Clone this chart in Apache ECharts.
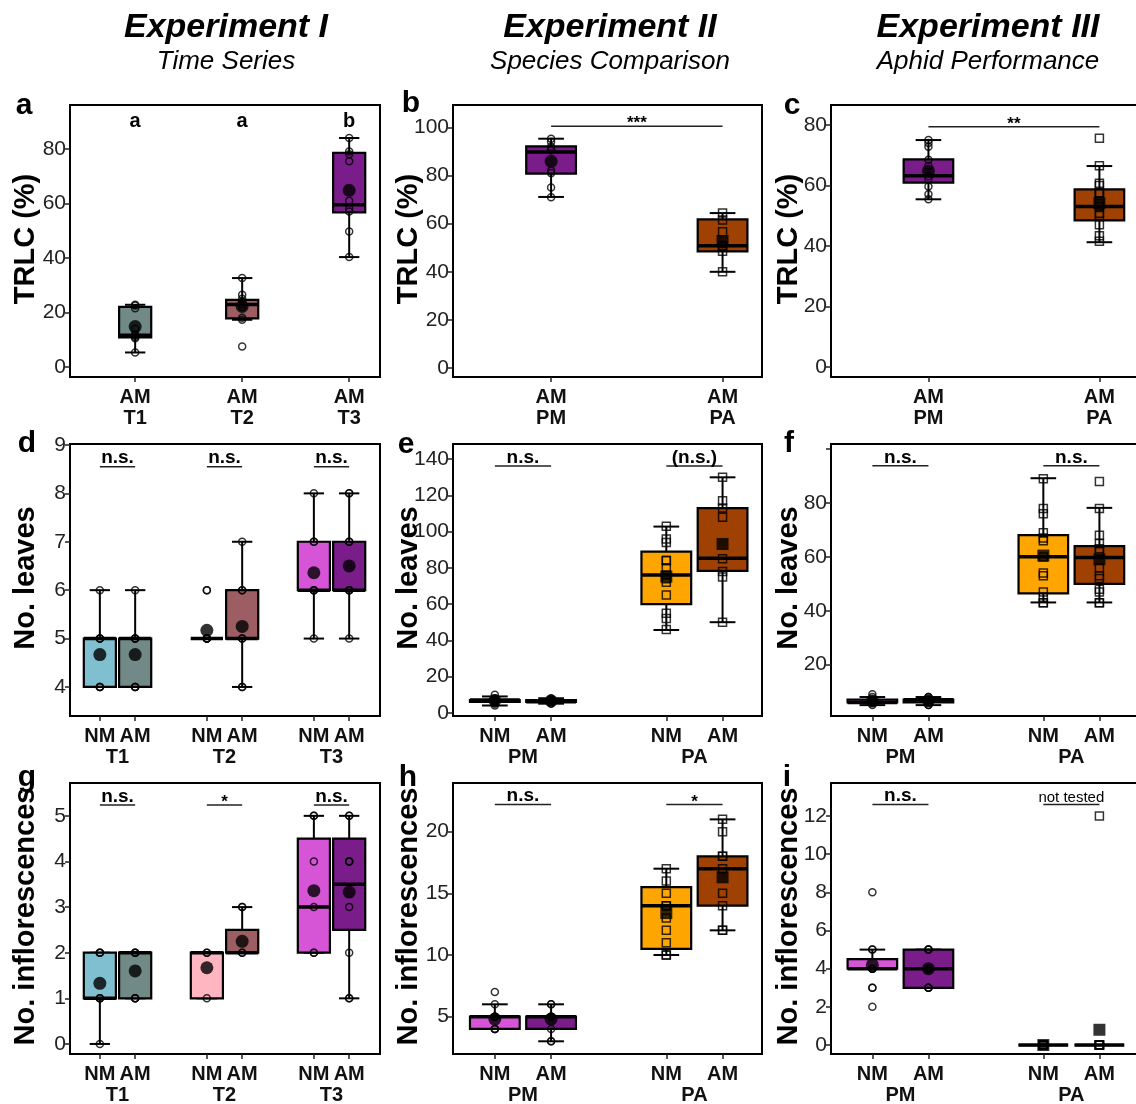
<!DOCTYPE html>
<html><head><meta charset="utf-8">
<script src="https://cdn.jsdelivr.net/npm/echarts@6/dist/echarts.min.js"></script>
<style>html,body{margin:0;padding:0;background:#fff}#c{width:1136px;height:1104px}</style>
</head><body><div id="c"></div>
<script>
// ================= DATA =================
const timeGroups = ['T1', 'T2', 'T3'];
const speciesGroups = ['PM', 'PA'];
const treatments = ['NM', 'AM'];

// box stats: [lower whisker, Q1, median, Q3, upper whisker]
// (a) TRLC (%) - time series, AM only
const a_AM_box = [[5.3, 10.8, 11.6, 22.0, 22.8], [17.3, 17.8, 22.9, 24.6, 32.6], [40.3, 56.7, 59.5, 78.5, 84.0]];
const a_AM_mean = [14.8, 22.2, 64.8];
const a_AM_pts = [[5.3, 10.5, 11, 11.5, 12, 14, 21.5, 22.5, 22.8], [7.5, 17.3, 18, 22, 23, 24, 25, 26.5, 32.6], [40.3, 49.7, 57, 58, 61, 75.5, 78, 79, 84]];
const a_sig = ['a', 'a', 'b'];

// (b) TRLC (%) - species comparison
const b_AM_box = [[71.1, 80.8, 89.8, 92.1, 95.3], [40.0, 48.5, 50.8, 61.8, 64.4]];
const b_AM_mean = [85.9, 52.8];
const b_AM_pts = [[71, 75, 81, 82, 90.5, 91, 92, 94, 95.3], [40, 48.5, 50.5, 51, 56.6, 61.5, 64.4]];
const b_sig = ['***'];

// (c) TRLC (%) - aphid performance
const c_AM_box = [[55.4, 60.9, 63.2, 68.6, 75.0], [41.2, 48.4, 53.0, 58.7, 66.4]];
const c_AM_mean = [64.8, 54.1];
const c_AM_pts = [[55.4, 57.1, 59.6, 62, 63, 66.5, 68.5, 72.8, 74, 75], [41.5, 43.3, 47, 50, 50.8, 53, 54, 57.5, 57.5, 57.5, 60, 60.7, 66.5, 75.6]];
const c_sig = ['**'];

// (d) No. leaves - time series
const d_NM_box = [[4, 4, 5, 5, 6], [5, 5, 5, 5, 5], [5, 6, 6, 7, 8]];
const d_AM_box = [[4, 4, 5, 5, 6], [4, 5, 5, 6, 7], [5, 6, 6, 7, 8]];
const d_NM_mean = [4.67, 5.17, 6.36];
const d_AM_mean = [4.67, 5.25, 6.5];
const d_NM_pts = [[4, 4, 4, 5, 5, 5, 6], [5, 5, 5, 5, 5, 6, 6], [5, 6, 6, 6, 7, 7, 8]];
const d_AM_pts = [[4, 4, 4, 5, 5, 5, 6], [4, 4, 5, 5, 6, 6, 7], [5, 6, 6, 6, 7, 7, 8, 8]];
const d_sig = ['n.s.', 'n.s.', 'n.s.'];

// (e) No. leaves - species comparison
const e_NM_box = [[4, 6, 7, 7, 9], [45.7, 60, 76, 89, 102.8]];
const e_AM_box = [[5, 6, 6, 7, 8], [50, 78.3, 85.3, 113, 130]];
const e_NM_mean = [6.7, 75.2];
const e_AM_mean = [6.5, 93.2];
const e_NM_pts = [[4, 5, 6, 6, 7, 7, 7, 8, 10], [46, 52, 55, 65, 72, 74, 76, 80, 84, 84, 94, 96, 103]];
const e_AM_pts = [[5, 6, 6, 6, 7, 7, 7, 8], [50, 75, 78, 85, 108, 113, 117, 130]];
const e_sig = ['n.s.', '(n.s.)'];

// (f) No. leaves - aphid performance
const f_NM_box = [[5, 6, 6, 7, 8], [43.1, 46.5, 60.1, 68.1, 89.2]];
const f_AM_box = [[5, 6, 7, 7, 8], [43.1, 50, 59.8, 64, 78.2]];
const f_NM_mean = [6.5, 60.5];
const f_AM_mean = [6.6, 59.1];
const f_NM_pts = [[5, 6, 6, 6, 7, 7, 8, 9], [43, 43, 45, 47, 53, 54, 60, 66, 67, 69, 76, 78, 89]];
const f_AM_pts = [[5, 5, 6, 7, 7, 7, 8, 8], [43, 43, 47, 48, 52, 53, 56, 62, 63, 65, 68, 78, 88]];
const f_sig = ['n.s.', 'n.s.'];

// (g) No. inflorescences - time series
const g_NM_box = [[0, 1, 1, 2, 2], [1, 1, 2, 2, 2], [2, 2, 3, 4.5, 5]];
const g_AM_box = [[1, 1, 2, 2, 2], [2, 2, 2, 2.5, 3], [1, 2.5, 3.5, 4.5, 5]];
const g_NM_mean = [1.33, 1.67, 3.36];
const g_AM_mean = [1.6, 2.25, 3.33];
const g_NM_pts = [[0, 1, 1, 1, 2, 2, 2], [1, 2, 2], [2, 2, 3, 4, 5, 5]];
const g_AM_pts = [[1, 1, 1, 2, 2, 2], [2, 2, 3, 3], [1, 1, 2, 3, 4, 4, 4, 5, 5]];
const g_sig = ['n.s.', '*', 'n.s.'];

// (h) No. inflorescences - species comparison
const h_NM_box = [[4, 4, 5, 5, 6], [10, 10.5, 14, 15.5, 17]];
const h_AM_box = [[3, 4, 5, 5, 6], [12, 14, 17, 18, 21]];
const h_NM_mean = [4.8, 13.4];
const h_AM_mean = [4.8, 16.3];
const h_NM_pts = [[4, 4, 4, 5, 5, 5, 6, 7], [10, 10, 11, 12, 13, 14, 14, 15, 16, 17]];
const h_AM_pts = [[3, 3, 4, 5, 5, 5, 6, 6], [12, 12, 14, 15, 17, 18, 18, 20, 21]];
const h_sig = ['n.s.', '*'];

// (i) No. inflorescences - aphid performance
const i_NM_box = [[4, 4, 4, 4.5, 5], [0, 0, 0, 0, 0]];
const i_AM_box = [[3, 3, 4, 5, 5], [0, 0, 0, 0, 0]];
const i_NM_mean = [4.2, 0];
const i_AM_mean = [4.0, 0.8];
const i_NM_pts = [[2, 3, 3, 4, 4, 4, 4, 5, 5, 8], [0, 0, 0, 0, 0, 0]];
const i_AM_pts = [[3, 3, 3, 4, 4, 5, 5, 5], [0, 0, 0, 0, 0, 0, 12]];
const i_sig = ['n.s.', 'not tested'];

// tick values
const a_ticks = [0, 20, 40, 60, 80];
const b_ticks = [0, 20, 40, 60, 80, 100];
const c_ticks = [0, 20, 40, 60, 80];
const d_ticks = [4, 5, 6, 7, 8, 9];
const e_ticks = [0, 20, 40, 60, 80, 100, 120, 140];
const f_ticks = [20, 40, 60, 80, 100];
const f_tickLabels = [20, 40, 60, 80];
const g_ticks = [0, 1, 2, 3, 4, 5];
const h_ticks = [5, 10, 15, 20];
const i_ticks = [0, 2, 4, 6, 8, 10, 12];

// ================= STYLE / LAYOUT =================
const FONT = '"Liberation Sans", Arial, sans-serif';
const COLORS = {
  T1: {NM: '#80bfcf', AM: '#718a87'},
  T2: {NM: '#ffb6c1', AM: '#9c5e62'},
  T3: {NM: '#d555d6', AM: '#7a1c8a'},
  PM: {NM: '#d555d6', AM: '#7a1c8a'},
  PA: {NM: '#ffa500', AM: '#9e4102'}
};
const SHAPE = {T1: 'circle', T2: 'circle', T3: 'circle', PM: 'circle', PA: 'rect'};
const OFF1 = 0.165, OFF2 = 0.164;
const COLS = [{left: 70, width: 310, min: 0.556, max: 3.453, off: OFF1, bw: 0.30, cw: 0.19},
              {left: 453, width: 309, min: 0.592, max: 2.394, off: OFF2, bw: 0.29, cw: 0.15},
              {left: 831, width: 312, min: 0.594, max: 2.419, off: OFF2, bw: 0.29, cw: 0.15}];
const ROWS = [{top: 105, height: 272}, {top: 444, height: 272}, {top: 783, height: 271}];

const panels = [
  {r: 0, c: 0, groups: timeGroups, single: true, ymin: -3.7, ymax: 96.1, ticks: a_ticks,
   AM: {box: a_AM_box, mean: a_AM_mean, pts: a_AM_pts}, sig: a_sig, sigY: 89.9, letters: true},
  {r: 0, c: 1, groups: speciesGroups, single: true, ymin: -3.7, ymax: 109.3, ticks: b_ticks,
   AM: {box: b_AM_box, mean: b_AM_mean, pts: b_AM_pts}, sig: b_sig, sigY: 100.5, across: true},
  {r: 0, c: 2, groups: speciesGroups, single: true, ymin: -3.4, ymax: 86.6, ticks: c_ticks,
   AM: {box: c_AM_box, mean: c_AM_mean, pts: c_AM_pts}, sig: c_sig, sigY: 79.4, across: true},
  {r: 1, c: 0, groups: timeGroups, ymin: 3.4, ymax: 9.02, ticks: d_ticks,
   NM: {box: d_NM_box, mean: d_NM_mean, pts: d_NM_pts}, AM: {box: d_AM_box, mean: d_AM_mean, pts: d_AM_pts}, sig: d_sig, sigY: 8.55},
  {r: 1, c: 1, groups: speciesGroups, ymin: -1.8, ymax: 148.4, ticks: e_ticks,
   NM: {box: e_NM_box, mean: e_NM_mean, pts: e_NM_pts}, AM: {box: e_AM_box, mean: e_AM_mean, pts: e_AM_pts}, sig: e_sig, sigY: 136.3},
  {r: 1, c: 2, groups: speciesGroups, ymin: 0.96, ymax: 101.9, ticks: f_ticks, tickLabels: f_tickLabels,
   NM: {box: f_NM_box, mean: f_NM_mean, pts: f_NM_pts}, AM: {box: f_AM_box, mean: f_AM_mean, pts: f_AM_pts}, sig: f_sig, sigY: 93.8},
  {r: 2, c: 0, groups: timeGroups, ymin: -0.22, ymax: 5.72, ticks: g_ticks,
   NM: {box: g_NM_box, mean: g_NM_mean, pts: g_NM_pts}, AM: {box: g_AM_box, mean: g_AM_mean, pts: g_AM_pts}, sig: g_sig, sigY: 5.24},
  {r: 2, c: 1, groups: speciesGroups, ymin: 1.97, ymax: 23.95, ticks: h_ticks,
   NM: {box: h_NM_box, mean: h_NM_mean, pts: h_NM_pts}, AM: {box: h_AM_box, mean: h_AM_mean, pts: h_AM_pts}, sig: h_sig, sigY: 22.2},
  {r: 2, c: 2, groups: speciesGroups, ymin: -0.47, ymax: 13.73, ticks: i_ticks,
   NM: {box: i_NM_box, mean: i_NM_mean, pts: i_NM_pts}, AM: {box: i_AM_box, mean: i_AM_mean, pts: i_AM_pts}, sig: i_sig, sigY: 12.6}
];

function boxRender(bw, cw) {
  return function (params, api) {
    const x = api.value(0);
    const v = [1, 2, 3, 4, 5].map(k => api.value(k));
    const pMin = api.coord([x, v[0]]), pQ1 = api.coord([x, v[1]]), pMed = api.coord([x, v[2]]),
          pQ3 = api.coord([x, v[3]]), pMax = api.coord([x, v[4]]);
    const w = api.size([bw, 0])[0], c = api.size([cw, 0])[0];
    const cx = pMed[0];
    const st = {stroke: '#000', lineWidth: 2};
    return {type: 'group', children: [
      {type: 'line', shape: {x1: cx, y1: pMin[1], x2: cx, y2: pMax[1]}, style: st},
      {type: 'line', shape: {x1: cx - c / 2, y1: pMin[1], x2: cx + c / 2, y2: pMin[1]}, style: st},
      {type: 'line', shape: {x1: cx - c / 2, y1: pMax[1], x2: cx + c / 2, y2: pMax[1]}, style: st},
      {type: 'rect', shape: {x: cx - w / 2, y: pQ3[1], width: w, height: Math.max(pQ1[1] - pQ3[1], 0)},
       style: {fill: api.visual('color'), stroke: '#000', lineWidth: 2.2}},
      {type: 'line', shape: {x1: cx - w / 2, y1: pMed[1], x2: cx + w / 2, y2: pMed[1]}, style: {stroke: '#000', lineWidth: 3.5}}
    ]};
  };
}

function sigFont(t) {
  if (t === 'not tested') return 'normal 15px ' + FONT;
  if (t.indexOf('*') >= 0) return 'bold 17px ' + FONT;
  if (t.length === 1) return 'bold 20px ' + FONT;
  return 'bold 19px ' + FONT;
}

const grids = [], xAxes = [], yAxes = [], series = [];
panels.forEach((P, idx) => {
  const C = COLS[P.c], R = ROWS[P.r];
  grids.push({left: C.left, top: R.top, width: C.width, height: R.height, show: true,
              borderColor: '#000', borderWidth: 2, backgroundColor: 'transparent', outerBoundsMode: 'none'});
  const trts = P.single ? ['AM'] : treatments;
  const pos = [], lab = [];
  const boxData = [], ptData = [], meanData = [];
  P.groups.forEach((g, gi) => {
    trts.forEach(t => {
      const x = (gi + 1) + (t === 'NM' ? -C.off : C.off);
      pos.push(x);
      lab.push(P.single ? t + '\n' + g : t);
      const D = P[t];
      boxData.push({value: [x].concat(D.box[gi]), itemStyle: {color: COLORS[g][t]}});
      D.pts[gi].forEach(v => ptData.push({value: [x, v], symbol: SHAPE[g], symbolSize: SHAPE[g] === 'rect' ? 8 : 7}));
      meanData.push({value: [x, D.mean[gi]], symbol: SHAPE[g], symbolSize: SHAPE[g] === 'rect' ? 12 : 13});
    });
  });
  const axisIdx = xAxes.length;
  xAxes.push({gridIndex: idx, type: 'value', min: C.min, max: C.max, position: 'bottom',
    axisLine: {show: true, onZero: false, lineStyle: {color: '#000', width: 2}},
    splitLine: {show: false},
    axisTick: {show: true, customValues: pos, length: 5, lineStyle: {color: '#222', width: 1.5}},
    axisLabel: {customValues: pos, fontSize: 20, fontWeight: 'bold', color: '#111', fontFamily: FONT,
      margin: 10, lineHeight: 21,
      formatter: (val) => { const k = pos.findIndex(p => Math.abs(p - val) < 1e-6); return k >= 0 ? lab[k] : ''; }}
  });
  if (!P.single) {
    const gpos = P.groups.map((g, gi) => gi + 1);
    xAxes.push({gridIndex: idx, type: 'value', min: C.min, max: C.max, position: 'bottom',
      axisLine: {show: false, onZero: false}, axisTick: {show: false}, splitLine: {show: false},
      axisLabel: {customValues: gpos, fontSize: 20, fontWeight: 'bold', color: '#111', fontFamily: FONT, margin: 31,
        formatter: (val) => P.groups[Math.round(val) - 1] || ''}
    });
  }
  yAxes.push({gridIndex: idx, type: 'value', min: P.ymin, max: P.ymax,
    axisLine: {show: true, onZero: false, lineStyle: {color: '#000', width: 2}},
    splitLine: {show: false},
    axisTick: {show: true, customValues: P.ticks, length: 5, lineStyle: {color: '#222', width: 1.5}},
    axisLabel: {customValues: P.tickLabels || P.ticks, fontSize: 21, color: '#222', fontFamily: FONT, margin: 4}
  });
  const base = {xAxisIndex: axisIdx, yAxisIndex: idx};
  series.push(Object.assign({type: 'custom', coordinateSystem: 'cartesian2d', renderItem: boxRender(C.bw, C.cw),
    encode: {x: 0, y: [1, 2, 3, 4, 5]}, data: boxData, z: 2, silent: true}, base));
  series.push(Object.assign({type: 'scatter', data: ptData, z: 3, silent: true,
    itemStyle: {color: 'rgba(255,255,255,0)', borderColor: '#000', borderWidth: 1.5}}, base));
  series.push(Object.assign({type: 'scatter', data: meanData, z: 4, silent: true,
    itemStyle: {color: '#000', borderColor: '#000', borderWidth: 0}}, base));
  // significance annotations
  const annData = [];
  const annText = [];
  if (P.letters) {
    P.groups.forEach((g, gi) => { const x = gi + 1 + C.off; annData.push([x, x, P.sigY]); annText.push(P.sig[gi]); });
  } else if (P.across) {
    annData.push([1 + C.off, 2 + C.off, P.sigY]); annText.push(P.sig[0]);
  } else {
    P.groups.forEach((g, gi) => { annData.push([gi + 1 - C.off, gi + 1 + C.off, P.sigY]); annText.push(P.sig[gi]); });
  }
  series.push(Object.assign({type: 'custom', coordinateSystem: 'cartesian2d', z: 5, silent: true,
    encode: {x: [0, 1], y: 2}, data: annData,
    renderItem: function (params, api) {
      const p1 = api.coord([api.value(0), api.value(2)]), p2 = api.coord([api.value(1), api.value(2)]);
      const t = annText[params.dataIndex];
      const mx = (p1[0] + p2[0]) / 2;
      if (P.letters) {
        return {type: 'text', x: mx, y: p1[1], style: {text: t, font: sigFont(t), fill: '#000',
          textAlign: 'center', textVerticalAlign: 'middle'}};
      }
      const star = t.indexOf('*') >= 0;
      return {type: 'group', children: [
        {type: 'line', shape: {x1: p1[0], y1: p1[1], x2: p2[0], y2: p2[1]}, style: {stroke: '#222', lineWidth: 1.5}},
        {type: 'text', x: mx, y: p1[1] + (star ? 6 : 1), style: {text: t, font: sigFont(t), fill: '#000',
          textAlign: 'center', textVerticalAlign: 'bottom'}}
      ]};
    }}, base));
});

const graphic = [];
[['Experiment I', 'Time Series', 226], ['Experiment II', 'Species Comparison', 610], ['Experiment III', 'Aphid Performance', 988]]
  .forEach(([t, s, x]) => {
    graphic.push({type: 'text', x: x, y: 28, style: {text: t, font: 'italic bold 34px ' + FONT, fill: '#000', textAlign: 'center', textVerticalAlign: 'middle'}});
    graphic.push({type: 'text', x: x, y: 62, style: {text: s, font: 'italic 26px ' + FONT, fill: '#000', textAlign: 'center', textVerticalAlign: 'middle'}});
  });
const letterPos = [['a', 24, 106], ['b', 411, 104], ['c', 792, 106], ['d', 27, 444], ['e', 406, 445], ['f', 789, 444], ['g', 27, 778], ['h', 408, 778], ['i', 787, 778]];
letterPos.forEach(([t, x, y]) => graphic.push({type: 'text', x: x, y: y, z: 10,
  style: {text: t, font: 'bold 30px ' + FONT, fill: '#000', textAlign: 'center', textVerticalAlign: 'middle'}}));
const yTitles = ['TRLC (%)', 'No. leaves', 'No. inflorescences'];
const yTitleX = [26, 409, 789];
ROWS.forEach((R, ri) => yTitleX.forEach(x => graphic.push({type: 'text', x: x, y: R.top + R.height / 2 - 2, rotation: Math.PI / 2,
  style: {text: yTitles[ri], font: 'bold 29px ' + FONT, fill: '#000', textAlign: 'center', textVerticalAlign: 'middle'}})));

const chart = echarts.init(document.getElementById('c'), null, {renderer: 'canvas'});
chart.setOption({animation: false, backgroundColor: '#fff', grid: grids, xAxis: xAxes, yAxis: yAxes, series: series, graphic: graphic});
</script></body></html>
